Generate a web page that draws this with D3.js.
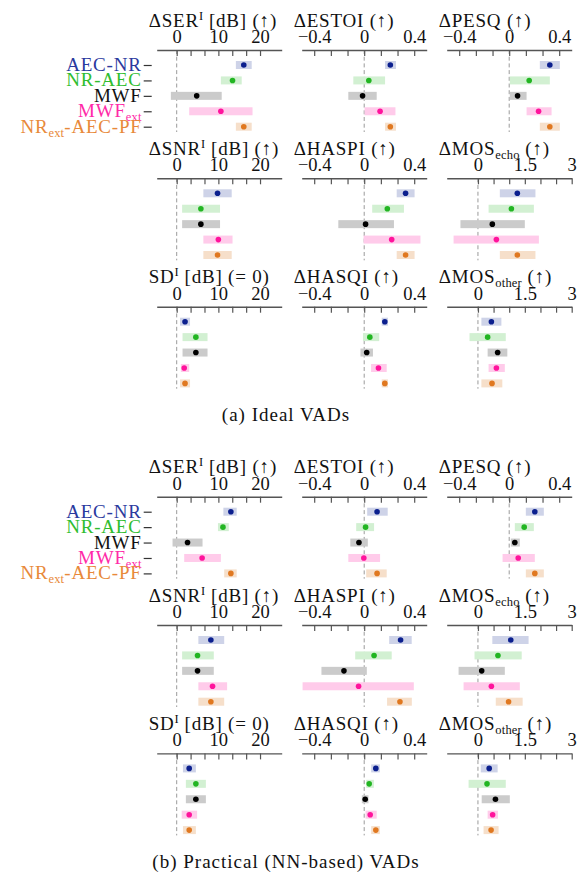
<!DOCTYPE html>
<html lang="en">
<head>
  <meta charset="utf-8">
  <script src="https://d3js.org/d3.v7.min.js"></script>
  <style>
    body { margin: 0; background: #fff; }
    svg text { font-family: "Liberation Serif", "Times New Roman", serif; }
  </style>
</head>
<body>
<script type="text/javascript">
  // methods (rows of every panel)
  var methods = ["AEC-NR", "NR-AEC", "MWF", "MWF_ext", "NR_ext-AEC-PF"];
  var methodLabels = [
    [["AEC-NR", ""]],
    [["NR-AEC", ""]],
    [["MWF", ""]],
    [["MWF", ""], ["ext", "sub"]],
    [["NR", ""], ["ext", "sub"], ["-AEC-PF", ""]]
  ];
  var labelColors = ["#2b3a9e", "#2fbd2f", "#111111", "#ff2aa8", "#e8893a"];
  var dotColors = ["#0b1f8e", "#22b522", "#000000", "#ff139c", "#e07820"];
  var bandColors = ["#ced3e8", "#d2f0d2", "#cbcbcb", "#ffcbea", "#f6dfca"];

  // [lower, median, upper] per method -- ideal VADs
  var idealSER = [[14.2, 16.1, 18.0], [10.6, 13.4, 15.6], [-1.4, 4.8, 10.8], [3.0, 10.6, 18.2], [14.2, 16.1, 18.0]];
  var idealESTOI = [[0.167, 0.209, 0.254], [-0.087, 0.037, 0.167], [-0.127, -0.013, 0.10], [0.003, 0.127, 0.25], [0.167, 0.209, 0.254]];
  var idealPESQ = [[0.245, 0.325, 0.405], [0.005, 0.16, 0.325], [0.005, 0.067, 0.139], [0.139, 0.235, 0.339], [0.245, 0.325, 0.405]];
  var idealSNR = [[6.4, 9.8, 13.2], [1.3, 5.8, 10.4], [1.3, 5.8, 10.4], [6.4, 10.0, 13.4], [6.4, 9.8, 13.2]];
  var idealHASPI = [[0.26, 0.331, 0.403], [0.064, 0.185, 0.318], [-0.207, 0.011, 0.238], [-0.005, 0.22, 0.45], [0.26, 0.331, 0.403]];
  var idealMOSecho = [[0.70, 1.26, 1.84], [0.34, 1.07, 1.79], [-0.56, 0.46, 1.5], [-0.78, 0.59, 1.95], [0.70, 1.26, 1.84]];
  var idealSD = [[0.8, 2.0, 3.2], [1.4, 4.6, 7.4], [1.4, 4.6, 7.4], [1.0, 1.8, 3.0], [0.8, 2.0, 3.2]];
  var idealHASQI = [[0.14, 0.165, 0.19], [-0.01, 0.045, 0.12], [-0.03, 0.02, 0.07], [0.055, 0.114, 0.18], [0.14, 0.165, 0.19]];
  var idealMOSother = [[0.11, 0.43, 0.75], [-0.27, 0.31, 0.89], [0.31, 0.63, 0.94], [0.34, 0.59, 0.86], [0.11, 0.45, 0.78]];

  // [lower, median, upper] per method -- practical (NN-based) VADs
  var nnSER = [[11.2, 13.0, 14.4], [9.9, 11.1, 12.5], [-1.0, 2.6, 6.2], [1.8, 6.1, 10.6], [11.4, 13.0, 14.4]];
  var nnESTOI = [[0.024, 0.103, 0.188], [-0.064, 0.011, 0.079], [-0.111, -0.042, 0.029], [-0.127, -0.003, 0.127], [0.016, 0.103, 0.18]];
  var nnPESQ = [[0.133, 0.205, 0.277], [0.045, 0.12, 0.197], [0.013, 0.045, 0.085], [-0.053, 0.072, 0.205], [0.133, 0.205, 0.277]];
  var nnSNR = [[5.2, 8.2, 11.4], [1.3, 5.0, 8.9], [1.3, 5.0, 8.9], [5.2, 8.6, 12.1], [5.2, 8.2, 11.4]];
  var nnHASPI = [[0.20, 0.291, 0.38], [-0.072, 0.079, 0.22], [-0.342, -0.162, 0.021], [-0.493, -0.045, 0.397], [0.183, 0.286, 0.381]];
  var nnMOSecho = [[0.46, 1.05, 1.62], [-0.11, 0.64, 1.40], [-0.62, 0.12, 0.86], [-0.46, 0.43, 1.34], [0.57, 0.98, 1.43]];
  var nnSD = [[1.5, 3.0, 4.6], [2.2, 4.6, 7.0], [2.2, 4.6, 7.0], [1.2, 3.0, 4.9], [1.5, 3.0, 4.6]];
  var nnHASQI = [[0.056, 0.093, 0.125], [0.016, 0.04, 0.077], [-0.019, 0.008, 0.034], [0.011, 0.048, 0.10], [0.056, 0.093, 0.125]];
  var nnMOSother = [[0.09, 0.36, 0.63], [-0.30, 0.29, 0.89], [0.12, 0.56, 1.02], [0.31, 0.47, 0.64], [0.18, 0.42, 0.66]];

  // tick labels per axis kind
  var dbTicks = [0, 10, 20];
  var dbTickLabels = ["0", "10", "20"];
  var objTicks = [-0.4, 0, 0.4];
  var objTickLabels = ["\u22120.4", "0", "0.4"];
  var mosTicks = [0, 1.5, 3];
  var mosTickLabels = ["0", "1.5", "3"];

  // panel titles (text, "" | "sup" | "sub")
  var panelTitles = [
    [["\u0394SER", ""], ["I", "sup"], [" [dB] (\u2191)", ""]],
    [["\u0394ESTOI (\u2191)", ""]],
    [["\u0394PESQ (\u2191)", ""]],
    [["\u0394SNR", ""], ["I", "sup"], [" [dB] (\u2191)", ""]],
    [["\u0394HASPI (\u2191)", ""]],
    [["\u0394MOS", ""], ["echo", "sub"], [" (\u2191)", ""]],
    [["SD", ""], ["I", "sup"], [" [dB] (= 0)", ""]],
    [["\u0394HASQI (\u2191)", ""]],
    [["\u0394MOS", ""], ["other", "sub"], [" (\u2191)", ""]]
  ];
  var panelKinds = ["db", "obj", "obj", "db", "obj", "mos", "db", "obj", "mos"];

  var idealData = [idealSER, idealESTOI, idealPESQ, idealSNR, idealHASPI, idealMOSecho, idealSD, idealHASQI, idealMOSother];
  var nnData = [nnSER, nnESTOI, nnPESQ, nnSNR, nnHASPI, nnMOSecho, nnSD, nnHASQI, nnMOSother];

  // layout
  var dim = {
    width: 582,
    height: 873,
    colX: [156.7, 301.7, 446.7],
    panelW: 125,
    rowY: [50, 178.3, 306.7],
    groupShift: 446.7,
    captionX: 286,
    captionY: 421,
    bandH: 8,
    dotR: 2.8
  };

  var kinds = {
    db: { domain: [-4.8, 25.2], ticks: dbTicks, labels: dbTickLabels },
    obj: { domain: [-0.5, 0.5], ticks: objTicks, labels: objTickLabels },
    mos: { domain: [-1, 3], ticks: mosTicks, labels: mosTickLabels }
  };

  var groups = [
    { data: idealData, shift: 0, caption: "(a) Ideal VADs" },
    { data: nnData, shift: dim.groupShift, caption: "(b) Practical (NN-based) VADs" }
  ];

  var svg = d3.select("body")
    .append("svg")
    .attr("width", dim.width)
    .attr("height", dim.height);

  // writes text parts with super/subscripts
  function richText(sel, parts) {
    var shift = 0;
    parts.forEach(function(p) {
      var target = p[1] === "sup" ? -7 : (p[1] === "sub" ? 4 : 0);
      var t = sel.append("tspan")
        .attr("dy", target - shift)
        .text(p[0]);
      if (p[1]) t.style("font-size", "12.5px").style("letter-spacing", "0.2px");
      shift = target;
    });
  }

  // vertical scale for the five methods inside a panel
  var yScale = d3.scalePoint()
    .domain(methods)
    .range([15, 76.7]);

  groups.forEach(function(group) {
    group.data.forEach(function(rows, p) {
      var col = p % 3;
      var row = Math.floor(p / 3);
      var x0 = dim.colX[col];
      var axisY = dim.rowY[row] + group.shift;
      var kind = kinds[panelKinds[p]];

      var xScale = d3.scaleLinear()
        .domain(kind.domain)
        .range([x0, x0 + dim.panelW]);

      var g = svg.append("g");

      // zero reference line
      g.append("line")
        .attr("x1", xScale(0))
        .attr("x2", xScale(0))
        .attr("y1", axisY)
        .attr("y2", axisY + 82)
        .attr("stroke", "#9a9a9a")
        .attr("stroke-width", 1)
        .attr("stroke-dasharray", "4,2.7");

      // bands (lower..upper)
      g.selectAll("rect.band")
        .data(rows)
        .enter()
        .append("rect")
        .attr("class", "band")
        .attr("x", function(d) { return xScale(d[0]); })
        .attr("width", function(d) { return xScale(d[2]) - xScale(d[0]); })
        .attr("y", function(d, i) { return axisY + yScale(methods[i]) - dim.bandH / 2; })
        .attr("height", dim.bandH)
        .attr("fill", function(d, i) { return bandColors[i]; });

      // medians
      g.selectAll("circle.med")
        .data(rows)
        .enter()
        .append("circle")
        .attr("class", "med")
        .attr("cx", function(d) { return xScale(d[1]); })
        .attr("cy", function(d, i) { return axisY + yScale(methods[i]); })
        .attr("r", dim.dotR)
        .attr("fill", function(d, i) { return dotColors[i]; });

      // top axis with minor ticks (three per major step)
      var step = (kind.ticks[1] - kind.ticks[0]) / 3;
      var nTicks = (kind.ticks.length - 1) * 3 + 1;
      var tickVals = d3.range(nTicks).map(function(i) { return kind.ticks[0] + i * step; });

      var axis = d3.axisTop(xScale)
        .tickValues(tickVals)
        .tickSizeInner(-6)
        .tickSizeOuter(0)
        .tickPadding(7)
        .tickFormat(function(d, i) { return i % 3 === 0 ? kind.labels[i / 3] : ""; });

      var ax = g.append("g")
        .attr("transform", "translate(0," + axisY + ")")
        .call(axis);
      ax.select(".domain").attr("stroke", "#555").attr("stroke-width", 1.4);
      ax.selectAll(".tick line").attr("stroke", "#555").attr("stroke-width", 1.2);
      ax.selectAll(".tick text")
        .attr("fill", "#111")
        .style("font-size", "18.5px")
        .style("font-family", "'Liberation Serif', serif");

      // panel title
      var title = g.append("text")
        .attr("x", x0 - 8)
        .attr("y", axisY - 23.5)
        .attr("fill", "#111")
        .style("font-size", "19px")
        .style("letter-spacing", "0.8px");
      richText(title, panelTitles[p]);

      // method labels on the first panel only
      if (p === 0) {
        var yAxis = d3.axisLeft(d3.scalePoint().domain(methods).range([axisY + 15, axisY + 76.7]))
          .tickSize(8)
          .tickFormat("");
        var ya = g.append("g")
          .attr("transform", "translate(" + (x0 - 5) + ",0)")
          .call(yAxis);
        ya.select(".domain").remove();
        ya.selectAll(".tick line").attr("stroke", "#333").attr("stroke-width", 1.2);

        methods.forEach(function(m, i) {
          var lab = g.append("text")
            .attr("x", x0 - 15)
            .attr("y", axisY + yScale(m) + 6)
            .attr("text-anchor", "end")
            .attr("fill", labelColors[i])
            .style("font-size", "19px")
            .style("letter-spacing", "0.8px");
          richText(lab, methodLabels[i]);
        });
      }
    });

    // sub-figure caption
    svg.append("text")
      .attr("x", dim.captionX)
      .attr("y", dim.captionY + group.shift)
      .attr("text-anchor", "middle")
      .attr("fill", "#111")
      .style("font-size", "19px")
      .style("letter-spacing", "1px")
      .text(group.caption);
  });
</script>
</body>
</html>
